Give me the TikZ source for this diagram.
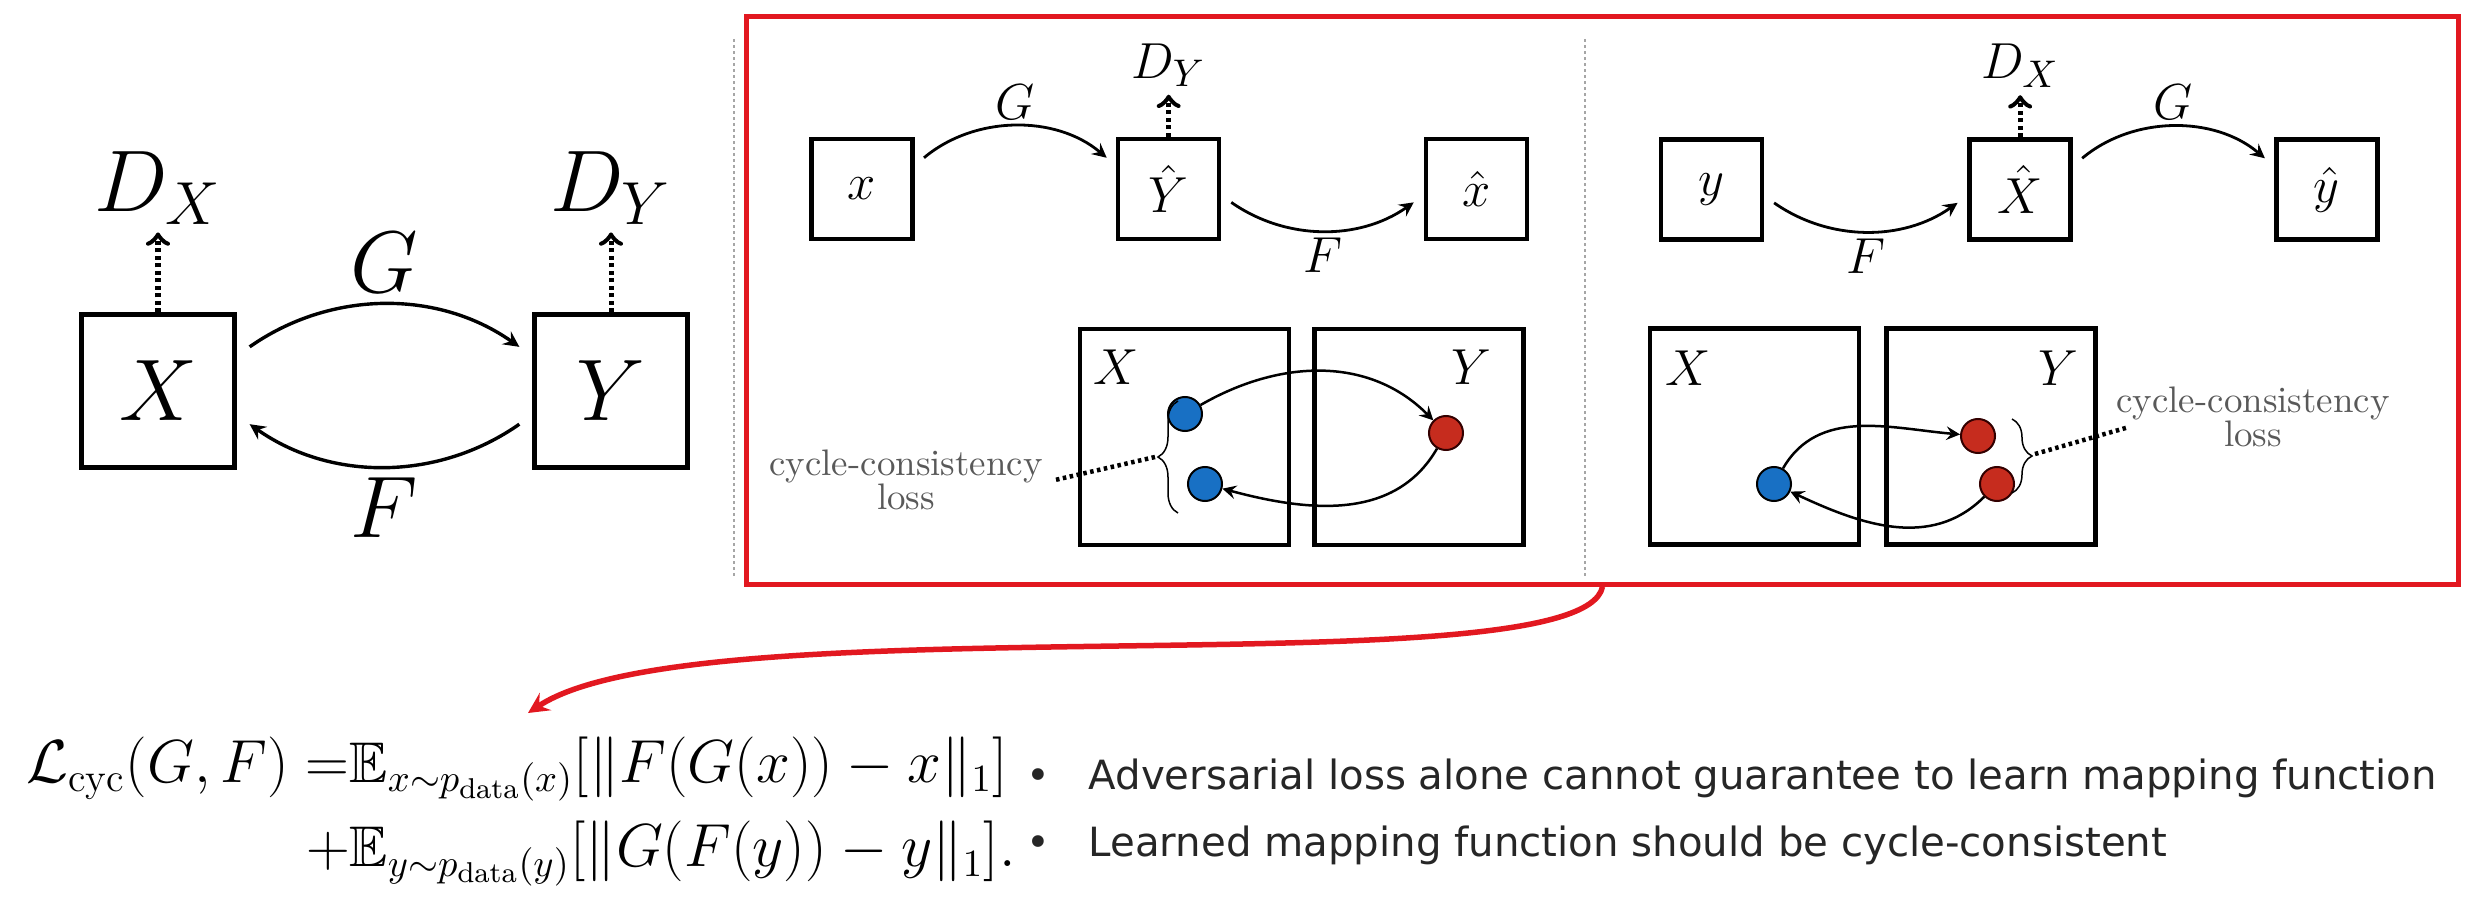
\documentclass[tikz,border=0pt]{standalone}
\usepackage{amsmath}
\usepackage{amssymb}
\usepackage{fontspec}
\newfontfamily\bulletfont{DejaVu Sans}
\usepackage{tikz}
\usetikzlibrary{arrows, positioning, calc, decorations.pathreplacing}
\definecolor{framered}{RGB}{226,24,32}
\definecolor{dotblue}{RGB}{24,112,196}
\definecolor{dotred}{RGB}{198,44,30}

\begin{document}
\begin{tikzpicture}[x=0.01cm, y=0.01cm, >=stealth]

    % --- Estilos ---
    \tikzset{
        bigbox/.style={rectangle, draw=black, line width=0.05cm, minimum width=1.52cm, minimum height=1.52cm, font=\fontsize{23}{27}\selectfont},
        smallbox/.style={rectangle, draw=black, line width=0.045cm, minimum width=1.01cm, minimum height=1cm, font=\fontsize{15}{18}\selectfont},
        setbox/.style={rectangle, draw=black, line width=0.045cm, minimum width=2.09cm, minimum height=2.16cm},
        biglabel/.style={font=\fontsize{23}{27}\selectfont},
        smalllabel/.style={font=\fontsize{15}{18}\selectfont, inner sep=2pt},
        bigarrow/.style={->, line width=0.034cm, shorten <=0.16cm, shorten >=0.16cm},
        arrow/.style={->, line width=0.028cm, shorten <=0.12cm, shorten >=0.12cm},
        dotarrow/.style={-to, line width=0.05cm, dash pattern=on 0.04cm off 0.035cm},
        dotline/.style={line width=0.045cm, dash pattern=on 0.035cm off 0.035cm},
        cycarrow/.style={->, line width=0.025cm},
        bluedot/.style={circle, draw=black, line width=0.02cm, fill=dotblue, minimum size=0.34cm, inner sep=0pt},
        reddot/.style={circle, draw=black!80!red, line width=0.02cm, fill=dotred, minimum size=0.34cm, inner sep=0pt},
        curly/.style={decorate, decoration={brace, amplitude=0.2cm}, line width=0.015cm},
        ccloss/.style={align=center, text=black!65, font=\fontsize{10.5}{9.5}\selectfont},
        divider/.style={gray!70, line width=0.02cm, dash pattern=on 0.03cm off 0.03cm},
        container/.style={draw=framered, line width=0.05cm, minimum width=17.11cm, minimum height=5.67cm},
        redarrow/.style={->, draw=framered, line width=0.055cm},
        bullets/.style={align=left, inner sep=0pt, text=black!85, font=\bulletfont\fontsize{11.45}{19}\selectfont}
    }

    \useasboundingbox (0,0) rectangle (2468,896);

    % --- Panel izquierdo ---
    \node (bX) [bigbox] at (158,505) {$X$};
    \node (bY) [bigbox] at (611,505) {$Y$};
    \node (dX) [biglabel, inner sep=2pt, above=0.8cm of bX] {$D_X$};
    \node (dY) [biglabel, inner sep=2pt, above=0.8cm of bY] {$D_Y$};

    \draw [bigarrow] (bX.24) to [bend left=35] node [biglabel, above] {$G$} (bY.156);
    \draw [bigarrow] (bY.197) to [bend left=35] node [biglabel, below] {$F$} (bX.343);
    \draw [dotarrow] (bX) -- (dX);
    \draw [dotarrow] (bY) -- (dY);

    % --- Recuadro rojo ---
    \node (frame) [container] at (1602.5,595.5) {};
    \draw [divider] (734,857) -- (734,318);
    \draw [divider] (1585,857) -- (1585,318);

    % --- Ciclo x -> Y -> x ---
    \node (xin) [smallbox] at (862,707) {$x$};
    \node (Yhat) [smallbox, right=2.01cm of xin] {$\hat{Y}$};
    \node (xhat) [smallbox, right=2.02cm of Yhat] {$\hat{x}$};
    \node (dYs) [smalllabel, above=0.42cm of Yhat] {$D_Y$};

    \draw [arrow] (xin.24) to [bend left=40] node [smalllabel, above] {$G$} (Yhat.156);
    \draw [arrow] (Yhat.353) to [bend right=35] node [smalllabel, below] {$F$} (xhat.187);
    \draw [dotarrow] (Yhat) -- (dYs);

    \node (setX1) [setbox] at (1184.5,459) {};
    \node (setY1) [setbox, right=0.21cm of setX1] {};
    \node (lX1) [smalllabel] at (1116,529) {$X$};
    \node (lY1) [smalllabel] at (1471,529) {$Y$};
    \node (b1) [bluedot] at (1185,482) {};
    \node (b2) [bluedot] at (1205,412) {};
    \node (r1) [reddot] at (1446,463) {};
    \draw [cycarrow] (b1) to [out=30, in=135] (r1);
    \draw [cycarrow] (r1) to [out=240, in=-15] (b2);
    \draw [curly] (1178,383) -- (1178,495);
    \coordinate (t1) at (1155,439);
    \node (cc1) [ccloss] at (906,416) {cycle-consistency\\loss};
    \draw [dotline] (t1) -- (cc1.east);

    % --- Ciclo y -> X -> y ---
    \node (yin) [smallbox] at (1711.5,706.5) {$y$};
    \node (Xhat) [smallbox, right=2.03cm of yin] {$\hat{X}$};
    \node (yhat) [smallbox, right=2.01cm of Xhat] {$\hat{y}$};
    \node (dXs) [smalllabel, above=0.42cm of Xhat] {$D_X$};

    \draw [arrow] (yin.353) to [bend right=35] node [smalllabel, below] {$F$} (Xhat.187);
    \draw [arrow] (Xhat.24) to [bend left=40] node [smalllabel, above] {$G$} (yhat.156);
    \draw [dotarrow] (Xhat) -- (dXs);

    \node (setX2) [setbox] at (1754.5,459.5) {};
    \node (setY2) [setbox, right=0.23cm of setX2] {};
    \node (lX2) [smalllabel] at (1688,528) {$X$};
    \node (lY2) [smalllabel] at (2058,528) {$Y$};
    \node (b3) [bluedot] at (1774,412) {};
    \node (r2) [reddot] at (1978,460) {};
    \node (r3) [reddot] at (1997,412) {};
    \draw [cycarrow] (b3) to [out=60, in=175] (r2);
    \draw [cycarrow] (r3) to [out=225, in=-25] (b3);
    \draw [curly] (2012,477) -- (2012,403);
    \coordinate (t2) at (2035,442);
    \node (cc2) [ccloss] at (2253,479) {cycle-consistency\\loss};
    \draw [dotline] (t2) -- ([xshift=0.25cm, yshift=-0.1cm]cc2.west);

    % --- Perdida y notas ---
    \coordinate (tipE) at (528,183);
    \draw [redarrow] (frame.south) .. controls +(-20,-105) and +(172,113) .. (tipE);

    \node (loss) [anchor=west, font=\fontsize{16.3}{21}\selectfont] at (14,86) {$\begin{aligned}
        \mathcal{L}_{\text{cyc}}(G, F) =&\mathbb{E}_{x\sim p_{\text{data}}(x)}[\|F(G(x))-x\|_1]\\
        +&\mathbb{E}_{y\sim p_{\text{data}}(y)}[\|G(F(y))-y\|_1].
    \end{aligned}$};

    \node (notes) [bullets, anchor=west] at (1026,84) {\makebox[1.54em][l]{\textbullet}Adversarial loss alone cannot guarantee to learn mapping function\\
        \makebox[1.54em][l]{\textbullet}Learned mapping function should be cycle-consistent};

\end{tikzpicture}
\end{document}
